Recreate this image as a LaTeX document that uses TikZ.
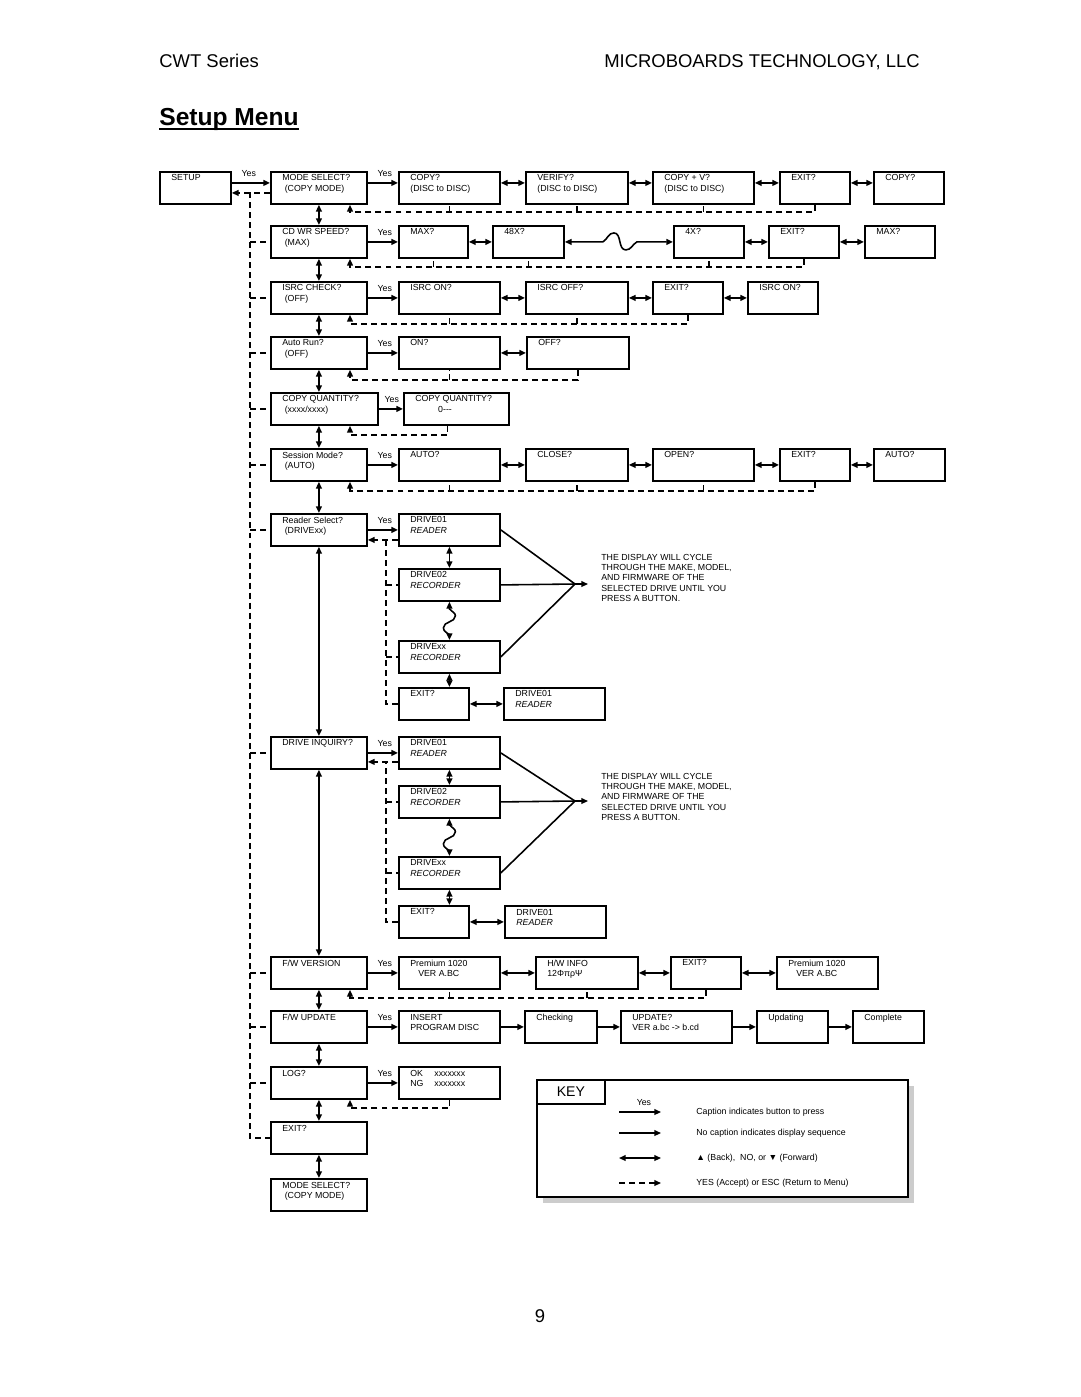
\documentclass[tikz,border=0pt]{standalone}
\usepackage{fontspec}
\setmainfont{Liberation Sans}
\usetikzlibrary{arrows.meta}
\usetikzlibrary{calc}
\usetikzlibrary{shadows}

\newcommand\boxfont{\fontsize{5}{5.8}\selectfont}

\tikzset{
  scrn/.style={draw,line width=1.05pt,anchor=north west,minimum height=0.64cm,inner sep=0pt},
  bw/.style={minimum width=#1*0.02cm},
  ltxt/.style={anchor=north west,align=left,inner sep=0pt,font=\boxfont,xshift=0.24cm,yshift=-0.07cm},
  fwd/.style={->,line width=0.9pt},
  dbl/.style={<->,line width=0.9pt},
  ret/.style={line width=0.75pt,dash pattern=on 3.4pt off 2.3pt},
  yestxt/.style={anchor=south west,inner sep=0pt,font=\boxfont,xshift=0.18cm,yshift=0.12cm},
  cyctxt/.style={anchor=north west,align=left,inner sep=0pt,font=\boxfont},
}

\begin{document}
\begin{tikzpicture}[x=0.02cm,y=-0.02cm,>={Triangle[length=3.8pt,width=3.3pt]}]
\useasboundingbox (0,0) rectangle (1080,1397);

% Page header
\node[anchor=base west,inner sep=0pt,font=\fontsize{10.5}{12}\selectfont] (series) at (159,67) {CWT Series};
\node[anchor=base east,inner sep=0pt,font=\fontsize{10.5}{12}\selectfont] (company) at (920,67) {MICROBOARDS TECHNOLOGY, LLC};
\node[anchor=base west,inner sep=0pt,font=\fontsize{14}{16}\selectfont\bfseries] (title) at (159,125) {Setup Menu};
\draw[line width=1.1pt] ($(title.base west)+(0,4)$) -- ($(title.base east)+(0,4)$);

% Main menu column
\node[scrn,bw=71,label={[ltxt]north west:SETUP}] (setup) at (159,171) {};
\node[scrn,bw=96,label={[ltxt]north west:MODE SELECT?\\\ (COPY MODE)}] (msel) at (270,171) {};
\node[scrn,bw=96,label={[ltxt]north west:CD WR SPEED?\\\ (MAX)}] (cdwr) at (270,225) {};
\node[scrn,bw=96,label={[ltxt]north west:ISRC CHECK?\\\ (OFF)}] (isrc) at (270,281) {};
\node[scrn,bw=96,label={[ltxt]north west:Auto Run?\\\ (OFF)}] (arun) at (270,336) {};
\node[scrn,bw=107,label={[ltxt]north west:COPY QUANTITY?\\\ (xxxx/xxxx)}] (cqty) at (270,392) {};
\node[scrn,bw=96,label={[ltxt]north west:Session Mode?\\\ (AUTO)}] (smode) at (270,448) {};
\node[scrn,bw=96,label={[ltxt]north west:Reader Select?\\\ (DRIVExx)}] (rsel) at (270,513) {};
\node[scrn,bw=96,label={[ltxt]north west:DRIVE INQUIRY?}] (dinq) at (270,736) {};
\node[scrn,bw=96,label={[ltxt]north west:F/W VERSION}] (fwver) at (270,956) {};
\node[scrn,bw=96,label={[ltxt]north west:F/W UPDATE}] (fwupd) at (270,1010) {};
\node[scrn,bw=96,label={[ltxt]north west:LOG?}] (logq) at (270,1066) {};
\node[scrn,bw=96,label={[ltxt]north west:EXIT?}] (mexit) at (270,1121) {};
\node[scrn,bw=96,label={[ltxt]north west:MODE SELECT?\\\ (COPY MODE)}] (msel2) at (270,1178) {};

\draw[dbl] (msel) -- (cdwr);
\draw[dbl] (cdwr) -- (isrc);
\draw[dbl] (isrc) -- (arun);
\draw[dbl] (arun.south) -- (arun.south |- cqty.north);
\draw[dbl] (smode.north |- cqty.south) -- (smode.north);
\draw[dbl] (smode) -- (rsel);
\draw[dbl] (rsel) -- (dinq);
\draw[dbl] (dinq) -- (fwver);
\draw[dbl] (fwver) -- (fwupd);
\draw[dbl] (fwupd) -- (logq);
\draw[dbl] (logq) -- (mexit);
\draw[dbl] (mexit) -- (msel2);

% Escape line on the left
\coordinate (lv) at (250,192);
\draw[fwd] ([yshift=2.85pt]setup.east) -- node[yestxt,pos=0] {Yes} ([yshift=2.85pt]msel.west);
\draw[ret,->] ([yshift=-2.85pt]msel.west) -- ([yshift=-2.85pt]setup.east);
\draw[ret] (lv) |- (mexit.west);
\draw[ret] (lv |- cdwr.west) -- (cdwr.west);
\draw[ret] (lv |- isrc.west) -- (isrc.west);
\draw[ret] (lv |- arun.west) -- (arun.west);
\draw[ret] (lv |- cqty.west) -- (cqty.west);
\draw[ret] (lv |- smode.west) -- (smode.west);
\draw[ret] (lv |- rsel.west) -- (rsel.west);
\draw[ret] (lv |- dinq.west) -- (dinq.west);
\draw[ret] (lv |- fwver.west) -- (fwver.west);
\draw[ret] (lv |- fwupd.west) -- (fwupd.west);
\draw[ret] (lv |- logq.west) -- (logq.west);

% MODE SELECT
\node[scrn,bw=101,label={[ltxt]north west:COPY?\\(DISC to DISC)}] (copya) at (398,171) {};
\node[scrn,bw=102,label={[ltxt]north west:VERIFY?\\(DISC to DISC)}] (verify) at (525,171) {};
\node[scrn,bw=101,label={[ltxt]north west:COPY + V?\\(DISC to DISC)}] (copyv) at (652,171) {};
\node[scrn,bw=70,label={[ltxt]north west:EXIT?}] (exita) at (779,171) {};
\node[scrn,bw=70,label={[ltxt]north west:COPY?}] (copyb) at (873,171) {};
\draw[fwd] ([yshift=2.85pt]msel.east) -- node[yestxt,pos=0] {Yes} ([yshift=2.85pt]copya.west);
\draw[dbl] ([yshift=2.85pt]copya.east) -- ([yshift=2.85pt]verify.west);
\draw[dbl] ([yshift=2.85pt]verify.east) -- ([yshift=2.85pt]copyv.west);
\draw[dbl] ([yshift=2.85pt]copyv.east) -- ([yshift=2.85pt]exita.west);
\draw[dbl] ([yshift=2.85pt]exita.east) -- ([yshift=2.85pt]copyb.west);
\coordinate (reta) at (350,212);
\draw[ret,->] (exita.south) |- (reta) -- (reta |- msel.south);
\draw[ret] (copya.south |- reta) -- (copya.south);
\draw[ret] (verify.south |- reta) -- (verify.south);
\draw[ret] (copyv.south |- reta) -- (copyv.south);

% CD WR SPEED
\node[scrn,bw=69,label={[ltxt]north west:MAX?}] (maxa) at (398,225) {};
\node[scrn,bw=71,label={[ltxt]north west:48X?}] (spd48) at (492,225) {};
\node[scrn,bw=70,label={[ltxt]north west:4X?}] (spd4) at (673,225) {};
\node[scrn,bw=70,label={[ltxt]north west:EXIT?}] (exitb) at (768,225) {};
\node[scrn,bw=70,label={[ltxt]north west:MAX?}] (maxb) at (864,225) {};
\draw[fwd] (cdwr) -- node[yestxt,pos=0] {Yes} (maxa);
\draw[dbl] (maxa) -- (spd48);
\draw[dbl] (spd48.east) -- ++(38,0) to[out=30,in=180] ++(11,-9) to[out=0,in=180] ++(12,17) to[out=0,in=210] ++(11,-8) -- (spd4.west);
\draw[dbl] (spd4) -- (exitb);
\draw[dbl] (exitb) -- (maxb);
\coordinate (retb) at (350,267);
\draw[ret,->] (exitb.south) |- (retb) -- (retb |- cdwr.south);
\draw[ret] (maxa.south |- retb) -- (maxa.south);
\draw[ret] (spd48.south |- retb) -- (spd48.south);
\draw[ret] (spd4.south |- retb) -- (spd4.south);

% ISRC CHECK
\node[scrn,bw=101,label={[ltxt]north west:ISRC ON?}] (isona) at (398,281) {};
\node[scrn,bw=102,label={[ltxt]north west:ISRC OFF?}] (isoff) at (525,281) {};
\node[scrn,bw=70,label={[ltxt]north west:EXIT?}] (exitc) at (652,281) {};
\node[scrn,bw=70,label={[ltxt]north west:ISRC ON?}] (isonb) at (747,281) {};
\draw[fwd] (isrc) -- node[yestxt,pos=0] {Yes} (isona);
\draw[dbl] (isona) -- (isoff);
\draw[dbl] (isoff) -- (exitc);
\draw[dbl] (exitc) -- (isonb);
\coordinate (retc) at (350,324);
\draw[ret,->] (exitc.south) |- (retc) -- (retc |- isrc.south);
\draw[ret] (isona.south |- retc) -- (isona.south);
\draw[ret] (isoff.south |- retc) -- (isoff.south);

% Auto Run
\node[scrn,bw=101,label={[ltxt]north west:ON?}] (runon) at (398,336) {};
\node[scrn,bw=102,label={[ltxt]north west:OFF?}] (runoff) at (526,336) {};
\draw[fwd] (arun) -- node[yestxt,pos=0] {Yes} (runon);
\draw[dbl] (runon) -- (runoff);
\coordinate (retd) at (350,380);
\draw[ret,->] (runoff.south) |- (retd) -- (retd |- arun.south);
\draw[ret] (runon.south |- retd) -- (runon.south);

% COPY QUANTITY
\node[scrn,bw=105,label={[ltxt]north west:COPY QUANTITY?\\\hspace*{13pt}0-{}-{}-}] (cqtyb) at (403,392) {};
\draw[fwd] (cqty) -- node[yestxt,pos=0,xshift=-0.08cm] {Yes} (cqtyb);
\coordinate (rete) at (350,435);
\draw[ret,->] ([xshift=-5pt]cqtyb.south) |- (rete) -- (rete |- cqty.south);

% Session Mode
\node[scrn,bw=101,label={[ltxt]north west:AUTO?}] (autoa) at (398,448) {};
\node[scrn,bw=102,label={[ltxt]north west:CLOSE?}] (closes) at (525,448) {};
\node[scrn,bw=101,label={[ltxt]north west:OPEN?}] (opens) at (652,448) {};
\node[scrn,bw=70,label={[ltxt]north west:EXIT?}] (exitf) at (779,448) {};
\node[scrn,bw=71,label={[ltxt]north west:AUTO?}] (autob) at (873,448) {};
\draw[fwd] (smode) -- node[yestxt,pos=0] {Yes} (autoa);
\draw[dbl] (autoa) -- (closes);
\draw[dbl] (closes) -- (opens);
\draw[dbl] (opens) -- (exitf);
\draw[dbl] (exitf) -- (autob);
\coordinate (retf) at (350,491);
\draw[ret,->] (exitf.south) |- (retf) -- (retf |- smode.south);
\draw[ret] (autoa.south |- retf) -- (autoa.south);
\draw[ret] (closes.south |- retf) -- (closes.south);
\draw[ret] (opens.south |- retf) -- (opens.south);

% Reader Select
\node[scrn,bw=101,label={[ltxt]north west:DRIVE01\\\textit{READER}}] (rdra) at (398,513) {};
\node[scrn,bw=101,label={[ltxt]north west:DRIVE02\\\textit{RECORDER}}] (rdrb) at (398,568) {};
\node[scrn,bw=101,label={[ltxt]north west:DRIVExx\\\textit{RECORDER}}] (rdrx) at (398,640) {};
\node[scrn,bw=70,label={[ltxt]north west:EXIT?}] (rdexit) at (398,687) {};
\node[scrn,bw=101,label={[ltxt]north west:DRIVE01\\\textit{READER}}] (rdrc) at (503,687) {};
\draw[fwd] (rsel) -- node[yestxt,pos=0] {Yes} (rdra);
\coordinate (rv) at (386,539);
\draw[ret,->] ([yshift=-5.7pt]rdra.west) -- ([yshift=-5.7pt]rsel.east);
\draw[ret] (rdexit.west) -| (rv);
\draw[ret] (rv |- rdrb.west) -- (rdrb.west);
\draw[ret] (rv |- rdrx.west) -- (rdrx.west);
\draw[dbl] (rdra) -- (rdrb);
\draw[dbl] (rdrb.south) -- ++(0,7) to[out=-60,in=90] ++(6,7) to[out=-90,in=90] ++(-12,12) to[out=-90,in=135] ++(6,7) -- (rdrx.north);
\draw[dbl] (rdrx.south) -- (rdrx.south |- rdexit.north);
\draw[dbl] (rdexit) -- (rdrc);
\coordinate (cva) at (575,584);
\coordinate (cvae) at (588,584);
\draw[line width=0.9pt] (rdra.east) -- (cva) -- (rdrx.east);
\draw[line width=0.9pt] (rdrb.east) -- (cva);
\draw[fwd] (cva) -- (cvae);
\node[cyctxt] (cyca) at (601,554) {THE DISPLAY WILL CYCLE\\THROUGH THE MAKE, MODEL,\\AND FIRMWARE OF THE\\SELECTED DRIVE UNTIL YOU\\PRESS A BUTTON.};

% DRIVE INQUIRY
\node[scrn,bw=101,label={[ltxt]north west:DRIVE01\\\textit{READER}}] (drva) at (398,736) {};
\node[scrn,bw=101,label={[ltxt]north west:DRIVE02\\\textit{RECORDER}}] (drvb) at (398,785) {};
\node[scrn,bw=101,label={[ltxt]north west:DRIVExx\\\textit{RECORDER}}] (drvx) at (398,856) {};
\node[scrn,bw=70,label={[ltxt]north west:EXIT?}] (drexit) at (398,905) {};
\node[scrn,bw=101,label={[ltxt]north west:DRIVE01\\\textit{READER}}] (drvc) at (504,905) {};
\draw[fwd] (dinq) -- node[yestxt,pos=0] {Yes} (drva);
\coordinate (dv) at (386,761);
\draw[ret,->] ([yshift=-5.1pt]drva.west) -- ([yshift=-5.1pt]dinq.east);
\draw[ret] (drexit.west) -| (dv);
\draw[ret] (dv |- drvb.west) -- (drvb.west);
\draw[ret] (dv |- drvx.west) -- (drvx.west);
\draw[dbl] (drva) -- (drvb);
\draw[dbl] (drvb.south) -- ++(0,6) to[out=-60,in=90] ++(6,7) to[out=-90,in=90] ++(-12,12) to[out=-90,in=135] ++(6,7) -- (drvx.north);
\draw[dbl] (drvx.south) -- (drvx.south |- drexit.north);
\draw[dbl] (drexit) -- (drvc);
\coordinate (cvb) at (575,801);
\coordinate (cvbe) at (588,801);
\draw[line width=0.9pt] (drva.east) -- (cvb) -- (drvx.east);
\draw[line width=0.9pt] (drvb.east) -- (cvb);
\draw[fwd] (cvb) -- (cvbe);
\node[cyctxt] (cycb) at (601,773) {THE DISPLAY WILL CYCLE\\THROUGH THE MAKE, MODEL,\\AND FIRMWARE OF THE\\SELECTED DRIVE UNTIL YOU\\PRESS A BUTTON.};

% F/W VERSION
\node[scrn,bw=101,label={[ltxt]north west:Premium 1020\\\hspace*{4.5pt}VER A.BC}] (prema) at (398,956) {};
\node[scrn,bw=102,label={[ltxt]north west:H/W INFO\\12ΦπρΨ}] (hwinfo) at (535,956) {};
\node[scrn,bw=70,label={[ltxt]north west:EXIT?}] (exitg) at (670,956) {};
\node[scrn,bw=101,label={[ltxt]north west:Premium 1020\\\hspace*{4.5pt}VER A.BC}] (premb) at (776,956) {};
\draw[fwd] (fwver) -- node[yestxt,pos=0] {Yes} (prema);
\draw[dbl] (prema) -- (hwinfo);
\draw[dbl] (hwinfo) -- (exitg);
\draw[dbl] (exitg) -- (premb);
\coordinate (retg) at (350,998);
\draw[ret,->] (exitg.south) |- (retg) -- (retg |- fwver.south);
\draw[ret] (prema.south |- retg) -- (prema.south);
\draw[ret] (hwinfo.south |- retg) -- (hwinfo.south);

% F/W UPDATE
\node[scrn,bw=101,label={[ltxt]north west:INSERT\\PROGRAM DISC}] (insdisc) at (398,1010) {};
\node[scrn,bw=72,label={[ltxt]north west:Checking}] (checking) at (524,1010) {};
\node[scrn,bw=111,label={[ltxt]north west:UPDATE?\\VER a.bc -> b.cd}] (updq) at (620,1010) {};
\node[scrn,bw=71,label={[ltxt]north west:Updating}] (updating) at (756,1010) {};
\node[scrn,bw=71,label={[ltxt]north west:Complete}] (complete) at (852,1010) {};
\draw[fwd] (fwupd) -- node[yestxt,pos=0] {Yes} (insdisc);
\draw[fwd] (insdisc) -- (checking);
\draw[fwd] (checking) -- (updq);
\draw[fwd] (updq) -- (updating);
\draw[fwd] (updating) -- (complete);

% LOG
\node[scrn,bw=101,label={[ltxt]north west:\makebox[13.7pt][l]{OK}xxxxxxx\\\makebox[13.7pt][l]{NG}xxxxxxx}] (okng) at (398,1066) {};
\draw[fwd] (logq) -- node[yestxt,pos=0] {Yes} (okng);
\coordinate (reth) at (350,1108);
\draw[ret,->] (okng.south) |- (reth) -- (reth |- logq.south);

% KEY
\node[draw,line width=1.3pt,fill=white,anchor=north west,inner sep=0pt,minimum width=7.42cm,minimum height=2.34cm,
      drop shadow={shadow xshift=0.12cm,shadow yshift=-0.12cm,fill=gray!40,opacity=1}] (keybox) at (536,1079) {};
\node[draw,line width=1pt,anchor=north west,inner sep=0pt,minimum width=1.36cm,minimum height=0.48cm,
      font=\fontsize{8}{9}\selectfont] (keylbl) at (536,1079) {KEY};
\coordinate (ka) at (619,1112);
\coordinate (kb) at (619,1133);
\coordinate (kc) at (619,1158);
\coordinate (kd) at (619,1183);
\draw[fwd] (ka) -- node[yestxt,pos=0,xshift=0.16cm] {Yes} ++(42,0);
\draw[fwd] (kb) -- ++(42,0);
\draw[dbl] (kc) -- ++(42,0);
\draw[ret,line width=0.85pt,->] (kd) -- ++(42,0);
\node[cyctxt,anchor=west] (kta) at (696,1112) {Caption indicates button to press};
\node[cyctxt,anchor=west] (ktb) at (696,1133) {No caption indicates display sequence};
\node[cyctxt,anchor=west] (ktc) at (696,1158) {▲ (Back),\ \ NO, or ▼ (Forward)};
\node[cyctxt,anchor=west] (ktd) at (696,1183) {YES (Accept) or ESC (Return to Menu)};

% Page number
\node[anchor=base,inner sep=0pt,font=\fontsize{10.5}{12}\selectfont] (pgno) at (540,1322) {9};

\end{tikzpicture}
\end{document}
